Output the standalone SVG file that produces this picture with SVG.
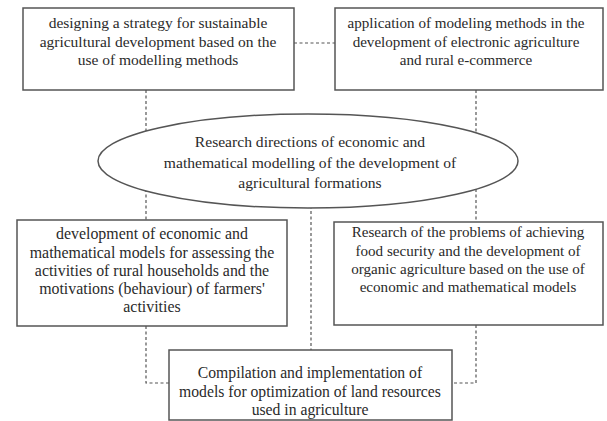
<svg xmlns="http://www.w3.org/2000/svg" width="607" height="421" viewBox="0 0 607 421">
<style>
.box{fill:#fff;stroke:#555;stroke-width:1.5}
.dash{fill:none;stroke:#555;stroke-width:1.2;stroke-dasharray:3 2.5}
text{font-family:'Liberation Serif','Times New Roman',serif;font-size:15.5px;fill:#2a2a2a;text-anchor:middle}
</style>
<rect width="607" height="421" fill="#fff"/>
<g id="connectors">
<path class="dash" d="M294 43 H335"/>
<path class="dash" d="M146 90 V220"/>
<path class="dash" d="M476 90 V222"/>
<path class="dash" d="M311 200 V350"/>
<path class="dash" d="M146 326 V383 H169"/>
<path class="dash" d="M476 325 V383 H452"/>
</g>
<g id="center">
<ellipse class="box" cx="308" cy="161" rx="210" ry="47"/>
<text x="310" y="147" style="font-size:15.6px">Research directions of economic and</text>
<text x="310" y="168" style="font-size:15.6px">mathematical modelling of the development of</text>
<text x="310" y="188" style="font-size:15.6px">agricultural formations</text>
</g>
<g id="n1">
<rect class="box" x="23" y="8" width="271" height="82"/>
<text x="158" y="28">designing a strategy for sustainable</text>
<text x="158" y="47">agricultural development based on the</text>
<text x="158" y="65">use of modelling methods</text>
</g>
<g id="n2">
<rect class="box" x="335" y="8" width="268" height="82"/>
<text x="466" y="28" style="font-size:15.1px">application of modeling methods in the</text>
<text x="466" y="47" style="font-size:15.1px">development of electronic agriculture</text>
<text x="466" y="65" style="font-size:15.1px">and rural e-commerce</text>
</g>
<g id="n3">
<rect class="box" x="17" y="220" width="270" height="106"/>
<text x="152" y="239" style="font-size:15.9px">development of economic and</text>
<text x="152" y="258" style="font-size:15.9px">mathematical models for assessing the</text>
<text x="152" y="276" style="font-size:15.9px">activities of rural households and the</text>
<text x="152" y="294" style="font-size:15.9px">motivations (behaviour) of farmers'</text>
<text x="152" y="312" style="font-size:15.9px">activities</text>
</g>
<g id="n4">
<rect class="box" x="334" y="222" width="269" height="103"/>
<text x="468" y="237" style="font-size:15.1px">Research of the problems of achieving</text>
<text x="468" y="256" style="font-size:15.1px">food security and the development of</text>
<text x="468" y="274" style="font-size:15.1px">organic agriculture based on the use of</text>
<text x="468" y="292" style="font-size:15.1px">economic and mathematical models</text>
</g>
<g id="n5">
<rect class="box" x="169" y="350" width="283" height="70"/>
<text x="310" y="378" style="font-size:15.7px">Compilation and implementation of</text>
<text x="310" y="397" style="font-size:15.7px">models for optimization of land resources</text>
<text x="310" y="415" style="font-size:15.7px">used in agriculture</text>
</g>
</svg>
